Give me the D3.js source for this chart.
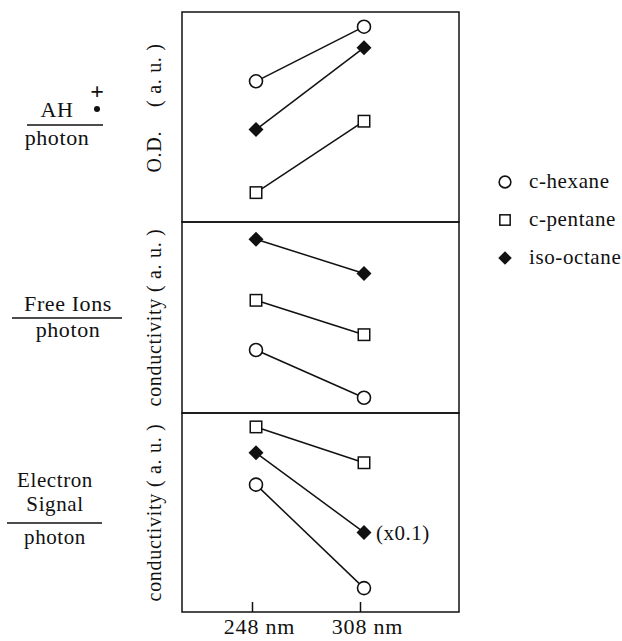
<!DOCTYPE html>
<html>
<head>
<meta charset="utf-8">
<script src="https://cdn.jsdelivr.net/npm/d3@7"></script>
<style>
  body { margin: 0; background: #fff; }
  svg text { font-family: "Liberation Serif", "Times New Roman", serif; fill: #111; }
</style>
</head>
<body>
<div id="main"></div>
<script>
/// data (arbitrary units, 0-10 per panel) ///
var wavelengths = [248, 308];
var tickLabels = ['248 nm', '308 nm'];
var solvents = ['c-hexane', 'c-pentane', 'iso-octane'];
var markers = ['circle', 'square', 'diamond'];

// panel 1 : AH.+ per photon, O.D.
var cationHexane = [6.7, 9.3];
var cationPentane = [1.4, 4.8];
var cationIsoOctane = [4.4, 8.3];
// panel 2 : free ions per photon, conductivity
var ionsHexane = [3.3, 0.8];
var ionsPentane = [5.9, 4.1];
var ionsIsoOctane = [9.1, 7.3];
// panel 3 : electron signal per photon, conductivity (iso-octane x0.1)
var electronHexane = [6.4, 1.2];
var electronPentane = [9.3, 7.5];
var electronIsoOctane = [8.0, 4.0];

var panelTitles = ['O.D.', 'conductivity', 'conductivity'];

const w = 622;
const h = 641;

const svg = d3.select('#main')
    .append('svg')
    .attr('width', w)
    .attr('height', h);

// panel geometry
const left = 182, right = 459;
const panels = [
    { top: 12,  bottom: 222, series: [cationHexane, cationPentane, cationIsoOctane] },
    { top: 222, bottom: 413, series: [ionsHexane, ionsPentane, ionsIsoOctane] },
    { top: 413, bottom: 612, series: [electronHexane, electronPentane, electronIsoOctane] }
];

const x = d3.scaleLinear()
    .domain([248, 308])
    .range([256, 364]);

// marker drawing
function drawMarker(g, type, cx, cy, scale) {
    scale = scale || 1;
    if (type === 'circle') {
        g.append('circle')
            .attr('cx', cx).attr('cy', cy).attr('r', 6.5 * scale)
            .attr('fill', '#fff').attr('stroke', '#111').attr('stroke-width', 1.6);
    } else if (type === 'square') {
        let s = 11.5 * scale;
        g.append('rect')
            .attr('x', cx - s / 2).attr('y', cy - s / 2)
            .attr('width', s).attr('height', s)
            .attr('fill', '#fff').attr('stroke', '#111').attr('stroke-width', 1.5);
    } else {
        g.append('path')
            .attr('d', d3.symbol().type(d3.symbolSquare).size(112 * scale * scale)())
            .attr('transform', `translate(${cx},${cy}) rotate(45)`)
            .attr('fill', '#111');
    }
}

panels.forEach(function(p, pi) {
    const y = d3.scaleLinear().domain([0, 10]).range([p.bottom, p.top]);
    const g = svg.append('g').attr('class', 'panel');

    g.append('rect')
        .attr('x', left).attr('y', p.top)
        .attr('width', right - left).attr('height', p.bottom - p.top)
        .attr('fill', 'none').attr('stroke', '#111').attr('stroke-width', 1.5);

    // connecting lines first, then markers on top
    p.series.forEach(function(vals) {
        g.append('path')
            .datum(vals)
            .attr('d', d3.line().x((d, i) => x(wavelengths[i])).y(d => y(d)))
            .attr('fill', 'none').attr('stroke', '#111').attr('stroke-width', 1.5);
    });
    p.series.forEach(function(vals, si) {
        vals.forEach(function(v, i) {
            drawMarker(g, markers[si], x(wavelengths[i]), y(v));
        });
    });

    // rotated y title
    const cy = (p.top + p.bottom) / 2;
    let t = g.append('text')
        .attr('transform', `translate(161,${pi === 0 ? 108 : cy}) rotate(-90)`)
        .attr('text-anchor', 'middle')
        .style('font-size', '20px')
        .style('letter-spacing', '0.7px');
    t.append('tspan').text(panelTitles[pi]);
    t.append('tspan').attr('dx', pi === 0 ? 24 : 6).text('( a. u. )');

    // scale factor note on iso-octane, last panel
    if (pi === 2) {
        g.append('text')
            .attr('x', x(308) + 12)
            .attr('y', y(electronIsoOctane[1]) + 8)
            .style('font-size', '21px')
            .style('letter-spacing', '0.5px')
            .text('(x0.1)');
    }

    // x axis only under bottom panel
    if (pi === 2) {
        const axis = d3.axisBottom(x)
            .tickValues(wavelengths)
            .tickFormat((d, i) => tickLabels[i])
            .tickSizeInner(-10)
            .tickSizeOuter(0)
            .tickPadding(6);
        const ax = svg.append('g')
            .attr('transform', `translate(0,${p.bottom})`)
            .call(axis);
        ax.select('.domain').remove();
        ax.selectAll('line').attr('stroke', '#111').attr('stroke-width', 1.5)
            .attr('transform', 'translate(-4,0)');
        ax.selectAll('text')
            .style('font-size', '22px')
            .style('font-family', '"Liberation Serif", serif')
            .style('letter-spacing', '0.8px')
            .attr('fill', '#111')
            .attr('dx', 3);
    }
});

/// left labels (fractions) ///
const lab = svg.append('g').attr('class', 'leftLabels');

function fraction(cx, numLines, numBase, lineY, x0, x1, denBase, size) {
    size = size || 22;
    numLines.forEach(function(s, i) {
        lab.append('text')
            .attr('x', cx).attr('y', numBase + i * 24)
            .attr('text-anchor', 'middle')
            .style('font-size', size + 'px')
            .style('letter-spacing', '0.6px')
            .text(s);
    });
    lab.append('line')
        .attr('x1', x0).attr('x2', x1).attr('y1', lineY).attr('y2', lineY)
        .attr('stroke', '#111').attr('stroke-width', 1.5);
    lab.append('text')
        .attr('x', cx).attr('y', denBase)
        .attr('text-anchor', 'middle')
        .style('font-size', size + 'px')
        .style('letter-spacing', '0.6px')
        .text('photon');
}

fraction(57, ['AH'], 117, 125, 27, 103, 145);
lab.append('text').attr('x', 97).attr('y', 99).attr('text-anchor', 'middle')
    .style('font-size', '24px').style('font-weight', 'bold').text('+');
lab.append('circle').attr('cx', 97).attr('cy', 109).attr('r', 3).attr('fill', '#111');

fraction(68, ['Free Ions'], 311, 318, 12, 122, 337);
fraction(55, ['Electron', 'Signal'], 487, 523, 7, 102, 544, 21);

/// legend ///
const legend = svg.append('g').attr('id', 'legend');
const legendY = d3.scalePoint().domain(solvents).range([182, 258]);

solvents.forEach(function(name, i) {
    drawMarker(legend, markers[i], 505, legendY(name), 0.9);
    legend.append('text')
        .attr('x', 529)
        .attr('y', legendY(name) + 6)
        .style('font-size', '21px')
        .style('letter-spacing', '0.6px')
        .text(name);
});
</script>
</body>
</html>
